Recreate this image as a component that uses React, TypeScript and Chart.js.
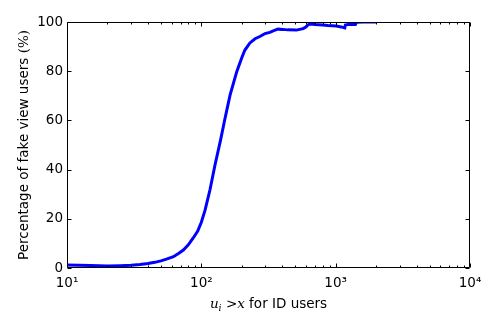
import { useEffect, useRef } from 'react';
import { Chart, registerables } from 'chart.js';

Chart.register(...registerables);

// ---- data ----
const xValues = [10, 15, 20, 25, 30, 35, 40, 45, 50, 55, 62, 68, 73.5, 80, 87, 94, 100, 106.6, 116, 126.5, 139, 150, 163.6, 183.5, 200, 211, 230, 251, 275, 298, 323, 350, 372, 400, 442, 510, 572, 600, 623, 641, 700, 800, 877, 1012, 1100, 1169, 1180, 1237, 1300, 1402, 1427, 1600, 2010];
const yValues = [1.2, 1.0, 0.85, 0.95, 1.1, 1.4, 1.8, 2.3, 2.9, 3.6, 4.6, 6.0, 7.3, 9.4, 12.2, 15.0, 18.6, 23.5, 31.8, 42.0, 52.0, 60.8, 70.3, 79.8, 85.5, 88.6, 91.5, 93.2, 94.2, 95.3, 95.8, 96.6, 97.1, 97.0, 96.8, 96.7, 97.3, 98.0, 98.8, 99.2, 99.0, 98.8, 98.6, 98.4, 98.0, 97.6, 98.8, 99.0, 99.0, 99.0, 99.9, 100, 100];

const xTickValues = [10, 100, 1000, 10000];
const xTickLabels = ['10¹', '10²', '10³', '10⁴'];
const xMinorMultipliers = [2, 3, 4, 5, 6, 7, 8, 9];
const yTickValues = [0, 20, 40, 60, 80, 100];

const yTitleMain = 'Percentage of fake view users ';
const yTitleMath = '(%)';
const xTitleText = ' for ID users';

const SANS = '"DejaVu Sans", sans-serif';
const SERIF = '"DejaVu Serif", serif';
const FS = 13.5;

const mplPlugin = {
  id: 'mplAxes',
  afterDraw(chart: any) {
    const { ctx, chartArea: a, scales } = chart;
    const xs = scales.x;
    const ys = scales.y;
    ctx.save();
    ctx.strokeStyle = '#000';
    ctx.lineWidth = 1;
    const L = Math.round(a.left) + 0.5;
    const R = Math.round(a.right) - 0.5;
    const T = Math.round(a.top) + 0.5;
    const B = Math.round(a.bottom) - 0.5;
    ctx.beginPath();
    ctx.rect(L, T, R - L, B - T);
    const xt = (v: number, len: number) => {
      const p = Math.round(xs.getPixelForValue(v)) + 0.5;
      ctx.moveTo(p, B); ctx.lineTo(p, B - len);
      ctx.moveTo(p, T); ctx.lineTo(p, T + len);
    };
    xTickValues.forEach((v) => xt(v, 4));
    xTickValues.slice(0, -1).forEach((d) => xMinorMultipliers.forEach((m) => xt(d * m, 2)));
    yTickValues.forEach((v) => {
      const p = Math.round(ys.getPixelForValue(v)) + 0.5;
      ctx.moveTo(L, p); ctx.lineTo(L + 4, p);
      ctx.moveTo(R, p); ctx.lineTo(R - 4, p);
    });
    ctx.stroke();

    // y title
    ctx.fillStyle = '#000';
    ctx.textBaseline = 'middle';
    ctx.font = `${FS}px ${SANS}`;
    const w1 = ctx.measureText(yTitleMain).width;
    ctx.font = `${FS}px ${SERIF}`;
    const w2 = ctx.measureText(yTitleMath).width;
    const cy = (a.top + a.bottom) / 2;
    ctx.save();
    ctx.translate(24, cy);
    ctx.rotate(-Math.PI / 2);
    const sx = -(w1 + w2) / 2;
    ctx.textAlign = 'left';
    ctx.font = `${FS}px ${SANS}`;
    ctx.fillText(yTitleMain, sx, 0);
    ctx.font = `${FS}px ${SERIF}`;
    ctx.fillText(yTitleMath, sx + w1, 0);
    ctx.restore();

    // x title: u_i > x for ID users
    const parts: { t: string; f: string; dy: number }[] = [
      { t: 'u', f: `italic ${FS}px ${SERIF}`, dy: 0 },
      { t: 'i', f: `italic 9.5px ${SERIF}`, dy: 3 },
      { t: ' >', f: `${FS}px ${SERIF}`, dy: 0 },
      { t: 'x', f: `italic ${FS}px ${SERIF}`, dy: 0 },
      { t: xTitleText, f: `${FS}px ${SANS}`, dy: 0 },
    ];
    let total = 0;
    parts.forEach((p) => { ctx.font = p.f; total += ctx.measureText(p.t).width; });
    let px = (a.left + a.right) / 2 - total / 2;
    const baseline = 308;
    ctx.textAlign = 'left';
    ctx.textBaseline = 'alphabetic';
    parts.forEach((p) => {
      ctx.font = p.f;
      ctx.fillText(p.t, px, baseline + p.dy);
      px += ctx.measureText(p.t).width;
    });
    ctx.restore();
  },
};

export default function App() {
  const ref = useRef<HTMLCanvasElement | null>(null);
  useEffect(() => {
    if (!ref.current) return;
    const chart = new Chart(ref.current, {
      type: 'line',
      data: {
        datasets: [
          {
            data: xValues.map((x, i) => ({ x, y: yValues[i] })),
            borderColor: '#0000ff',
            borderWidth: 3,
            pointRadius: 0,
            tension: 0,
            fill: false,
          },
        ],
      },
      options: {
        animation: false,
        responsive: false,
        events: [],
        layout: { padding: { left: 0, right: 28, top: 22, bottom: 0 } },
        plugins: { legend: { display: false }, tooltip: { enabled: false } },
        scales: {
          x: {
            type: 'logarithmic',
            min: 10,
            max: 10000,
            grid: { display: false, drawTicks: false },
            border: { display: false },
            afterBuildTicks: (s: any) => { s.ticks = xTickValues.map((v) => ({ value: v })); },
            afterFit: (s: any) => { s.height = 64; },
            ticks: {
              autoSkip: false,
              maxRotation: 0,
              padding: 7,
              color: '#000',
              font: { family: SANS, size: FS },
              callback: (v: any) => {
                const i = xTickValues.indexOf(Number(v));
                return i >= 0 ? xTickLabels[i] : '';
              },
            },
          },
          y: {
            min: 0,
            max: 100,
            grid: { display: false, drawTicks: false },
            border: { display: false },
            afterBuildTicks: (s: any) => { s.ticks = yTickValues.map((v) => ({ value: v })); },
            afterFit: (s: any) => { s.width = 67; },
            ticks: {
              padding: 4,
              color: '#000',
              font: { family: SANS, size: FS },
            },
          },
        },
      },
      plugins: [mplPlugin],
    });
    return () => chart.destroy();
  }, []);
  return (
    <div style={{ position: 'absolute', left: 0, top: 0, width: 498, height: 332, background: '#fff' }}>
      <canvas ref={ref} width={498} height={332} style={{ display: 'block', width: 498, height: 332 }} />
    </div>
  );
}
